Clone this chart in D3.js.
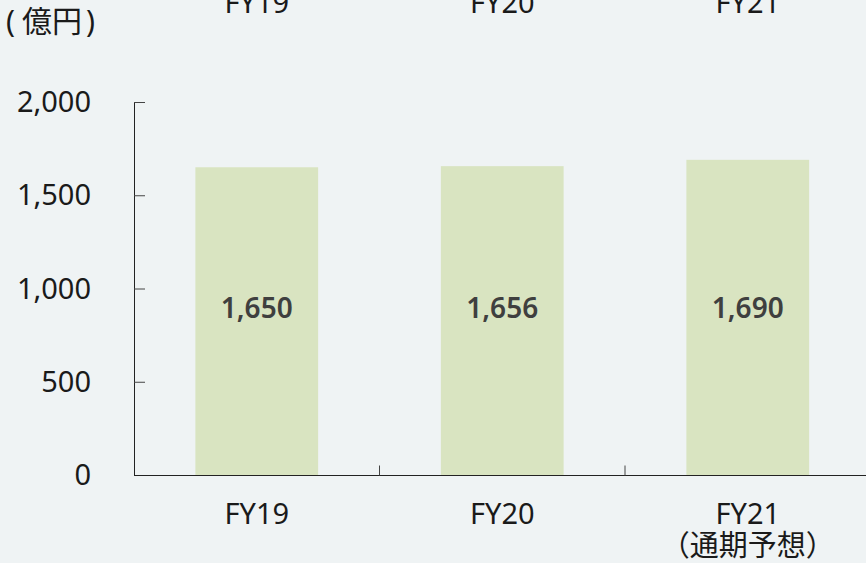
<!DOCTYPE html>
<html lang="ja">
<head>
<meta charset="utf-8">
<script src="https://cdn.jsdelivr.net/npm/d3@7"></script>
<style>
  body { margin: 0; background: #eff3f4; }
  svg { display: block; font-family: "Noto Sans", "Noto Sans CJK JP", sans-serif; }
</style>
</head>
<body>
<script>
// data
var categories = ["FY19", "FY20", "FY21"];
var subLabels = ["", "", "（通期予想）"];
var values = [1650, 1656, 1690];
var yTicks = [0, 500, 1000, 1500, 2000];

var w = 866, h = 563;
var mLeft = 134, mRight = 870.5, mTop = 102, mBottom = 475;

var svg = d3.select("body").append("svg")
  .attr("width", w).attr("height", h);

var x = d3.scaleBand().domain(categories).range([mLeft, mRight]).paddingInner(0).paddingOuter(0);
var y = d3.scaleLinear().domain([0, 2000]).range([mBottom, mTop]);

// bars
svg.selectAll("rect.bar").data(values).enter().append("rect")
  .attr("x", function(d, i) { return x(categories[i]) + x.bandwidth() * 0.25; })
  .attr("width", x.bandwidth() * 0.5)
  .attr("y", function(d) { return y(d); })
  .attr("height", function(d) { return y(0) - y(d); })
  .attr("fill", "#d9e4c1");

// value labels
svg.selectAll("text.val").data(values).enter().append("text")
  .attr("x", function(d, i) { return x(categories[i]) + x.bandwidth() / 2; })
  .attr("y", y(895))
  .attr("dy", "0.35em")
  .attr("text-anchor", "middle")
  .attr("font-size", 28).attr("font-weight", 600)
  .attr("fill", "#3f3f3f")
  .text(function(d) { return d3.format(",")(d); });

// y axis
var yAxis = svg.append("g")
  .attr("transform", "translate(" + mLeft + ",0)")
  .call(d3.axisRight(y).tickValues(yTicks).tickSize(11).tickFormat(""));
yAxis.select(".domain").attr("stroke", "#222").attr("d", "M0.5," + mTop + "V" + mBottom);
yAxis.selectAll(".tick line").attr("stroke", "#444");

svg.selectAll("text.ytick").data(yTicks).enter().append("text")
  .attr("x", 91).attr("y", function(d) { return y(d); })
  .attr("dy", "0.35em")
  .attr("text-anchor", "end")
  .attr("font-size", 29).attr("fill", "#1a1a1a")
  .text(function(d) { return d3.format(",")(d); });

// x axis
var xAxis = svg.append("g")
  .attr("transform", "translate(0," + (mBottom + 0.5) + ")");
xAxis.append("line").attr("x1", mLeft).attr("x2", w).attr("stroke", "#222");
xAxis.selectAll("line.tk").data(categories.slice(1)).enter().append("line")
  .attr("x1", function(d) { return x(d); }).attr("x2", function(d) { return x(d); })
  .attr("y1", 0).attr("y2", -10).attr("stroke", "#444");

svg.selectAll("text.xlab").data(categories).enter().append("text")
  .attr("x", function(d) { return x(d) + x.bandwidth() / 2; })
  .attr("y", 524)
  .attr("text-anchor", "middle")
  .attr("font-size", 29).attr("fill", "#1a1a1a")
  .text(function(d) { return d; });

svg.selectAll("text.xsub").data(subLabels).enter().append("text")
  .attr("x", function(d, i) { return x(categories[i]) + x.bandwidth() / 2; })
  .attr("y", 556)
  .attr("text-anchor", "middle")
  .attr("font-size", 29).attr("fill", "#1a1a1a")
  .text(function(d) { return d; });

// top labels (clipped at the top edge)
svg.selectAll("text.xtop").data(categories).enter().append("text")
  .attr("x", function(d) { return x(d) + x.bandwidth() / 2; })
  .attr("y", 13)
  .attr("text-anchor", "middle")
  .attr("font-size", 29).attr("fill", "#1a1a1a")
  .text(function(d) { return d; });

// unit
var unit = svg.append("text")
  .attr("y", 32)
  .attr("font-size", 30).attr("fill", "#1a1a1a");
unit.append("tspan").attr("x", 6).text("(");
unit.append("tspan").attr("x", 22).text("億円");
unit.append("tspan").attr("x", 86).text(")");
</script>
</body>
</html>
